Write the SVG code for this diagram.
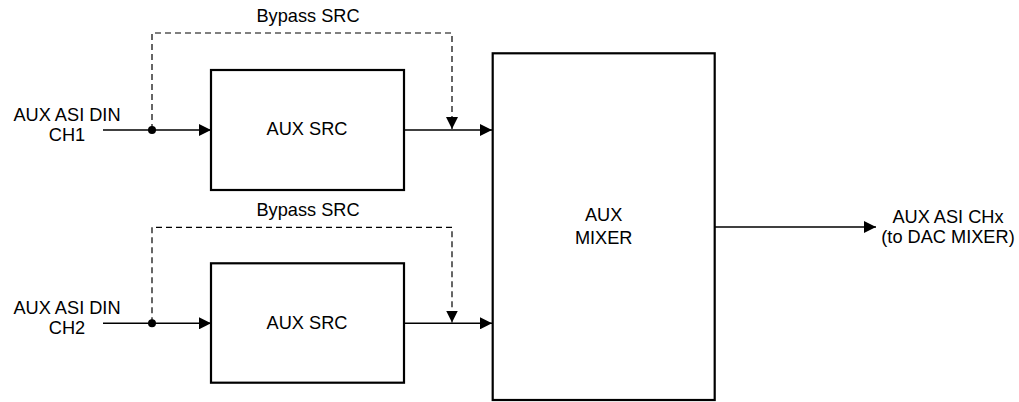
<svg xmlns="http://www.w3.org/2000/svg" width="1019" height="402" viewBox="0 0 1019 402">
<style>
text{font-family:"Liberation Sans",Arial,sans-serif;font-size:18.2px;fill:#000;text-anchor:middle}
.box{fill:#fff;stroke:#000;stroke-width:2.2}
.ln{fill:none;stroke:#000;stroke-width:1.4}
.dash{fill:none;stroke:#000;stroke-width:1.2;stroke-dasharray:6 4}
</style>
<defs>
<marker id="arr" markerUnits="userSpaceOnUse" markerWidth="12" markerHeight="12" viewBox="0 0 11 11" refX="11" refY="5.5" orient="auto">
<path d="M0,0 L11,5.5 L0,11 Z" fill="#000"/>
</marker>
</defs>
<rect width="1019" height="402" fill="#fff"/>
<g id="connectors">
<path class="ln" d="M103,130 H211" marker-end="url(#arr)"/>
<path class="dash" d="M152,130 V33 H452 V129" marker-end="url(#arr)"/>
<path class="ln" d="M404,130 H492" marker-end="url(#arr)"/>
<circle cx="152" cy="130" r="4" fill="#000"/>
<path class="ln" d="M103,323.3 H211" marker-end="url(#arr)"/>
<path class="dash" d="M152,323.3 V227.3 H452 V322.5" marker-end="url(#arr)"/>
<path class="ln" d="M404,323.3 H492" marker-end="url(#arr)"/>
<circle cx="152" cy="323.3" r="4" fill="#000"/>
<path class="ln" d="M714,227 H876" marker-end="url(#arr)"/>
</g>
<g id="in1"><text x="67" y="121">AUX ASI DIN</text><text x="67" y="140.5">CH1</text></g>
<g id="in2"><text x="67" y="314">AUX ASI DIN</text><text x="67" y="333.5">CH2</text></g>
<g id="bypass1"><text x="308" y="22">Bypass SRC</text></g>
<g id="bypass2"><text x="308" y="216">Bypass SRC</text></g>
<g id="src1"><rect class="box" x="211" y="70" width="193" height="120"/><text x="307" y="135">AUX SRC</text></g>
<g id="src2"><rect class="box" x="211" y="263.3" width="193" height="119.4"/><text x="307" y="328.5">AUX SRC</text></g>
<g id="mixer"><rect class="box" x="492.7" y="53.3" width="222" height="346.7"/><text x="603.7" y="220.7">AUX</text><text x="603.7" y="244">MIXER</text></g>
<g id="out"><text x="948" y="223">AUX ASI CHx</text><text x="948" y="243">(to DAC MIXER)</text></g>
</svg>
